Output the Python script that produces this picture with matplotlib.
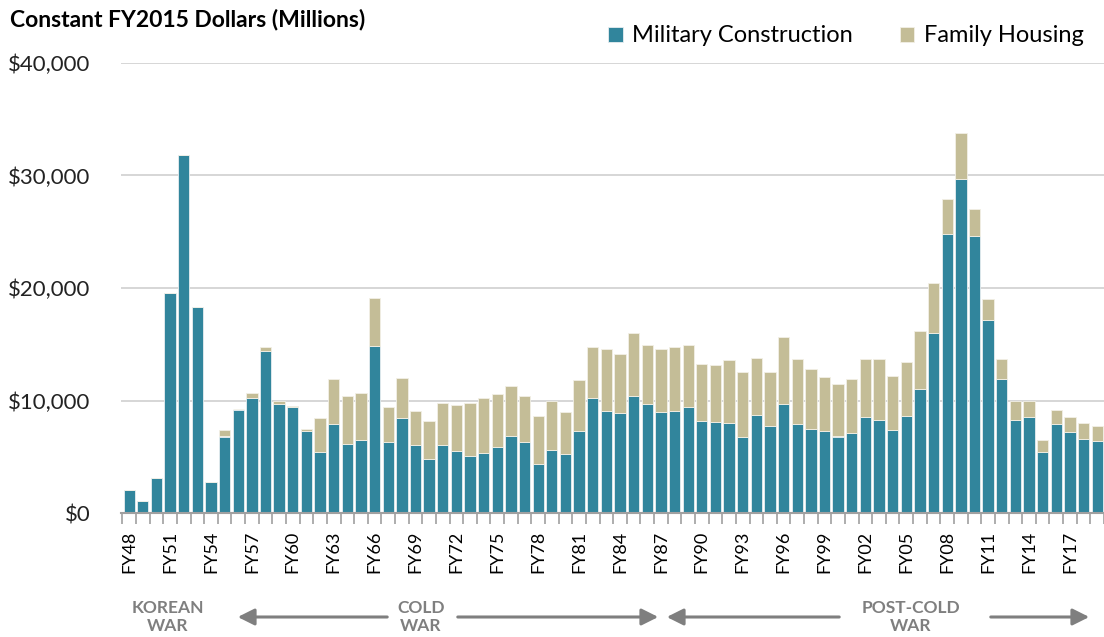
import matplotlib
matplotlib.use("Agg")
import matplotlib.pyplot as plt
from matplotlib.ticker import FuncFormatter

# fiscal years FY48 .. FY19
years = [f"FY{y % 100:02d}" for y in range(1948, 2020)]

# values in constant FY2015 dollars (millions)
military_construction = [
    2070, 1030, 3100, 19580, 31780, 18340, 2750, 6800, 9200, 10200,
    14400, 9670, 9440, 7300, 5380, 7870, 6150, 6510, 14880, 6270,
    8420, 6030, 4790, 6030, 5470, 5110, 5350, 5910, 6830, 6270,
    4350, 5590, 5260, 7280, 10230, 9080, 8870, 10440, 9670, 8960,
    9080, 9440, 8180, 8080, 7970, 6750, 8750, 7720, 9670, 7950,
    7510, 7280, 6800, 7070, 8520, 8310, 7390, 8640, 11000, 15980,
    24790, 29650, 24590, 17130, 11890, 8310, 8520, 5380, 7870, 7190,
    6620, 6390,
]
family_housing = [
    0, 0, 0, 0, 0, 0, 0, 590, 50, 450,
    330, 300, 80, 210, 3050, 4050, 4290, 4170, 4260, 3170,
    3600, 3050, 3380, 3730, 4170, 4650, 4850, 4650, 4500, 4170,
    4290, 4380, 3700, 4520, 4500, 5530, 5300, 5540, 5300, 5650,
    5650, 5530, 5070, 5060, 5640, 5820, 5060, 4850, 5950, 5750,
    5270, 4850, 4650, 4820, 5200, 5410, 4830, 4820, 5210, 4490,
    3140, 4170, 2450, 1890, 1830, 1660, 1450, 1100, 1330, 1330,
    1370, 1360,
]

MC_COLOR = "#31859C"
FH_COLOR = "#C4BD97"
GRAY = "#7F7F7F"
W, H = 1104, 637

plt.rcParams["font.family"] = ["Lato", "DejaVu Sans"]

fig = plt.figure(figsize=(W / 100, H / 100), dpi=100)
ax = fig.add_axes([121 / W, 1 - 513 / H, 1 - 121 / W, (513 - 63) / H])

x = list(range(len(years)))
ax.bar(x, military_construction, width=0.83, color=MC_COLOR,
       edgecolor="#E8EEF0", linewidth=0.6, label="Military Construction", zorder=3)
ax.bar(x, family_housing, width=0.83, bottom=military_construction, color=FH_COLOR,
       edgecolor="#F2F0E6", linewidth=0.6, label="Family Housing", zorder=3)

ax.set_ylim(0, 40000)
ax.set_xlim(-0.6, 71.3)
ax.set_yticks([0, 10000, 20000, 30000, 40000])
ax.yaxis.set_major_formatter(FuncFormatter(lambda v, _: f"${v:,.0f}"))
ax.grid(axis="y", color="#D0D0D0", linewidth=1.2, zorder=0)

ax.set_xticks(x[::3])
ax.set_xticklabels(years[::3], rotation=90, fontsize=13)
ax.set_xticks([i + 0.5 for i in range(-1, len(years))], minor=True)
ax.tick_params(axis="x", which="major", length=0, pad=13)
ax.tick_params(axis="x", which="minor", length=8, color="#A0A0A0", width=1.2)
ax.tick_params(axis="y", length=0, pad=22, labelsize=16, labelcolor="#222222")

for side in ("top", "right", "left"):
    ax.spines[side].set_visible(False)
ax.spines["bottom"].set_color("#A0A0A0")
ax.spines["bottom"].set_linewidth(1.5)
ax.spines["bottom"].set_zorder(4)

fig.text(10 / W, 1 - 20 / H, "Constant FY2015 Dollars (Millions)",
         fontsize=16.5, fontweight="bold", va="center", ha="left")

ax.legend(loc="center", bbox_to_anchor=(846 / W, 1 - 36 / H),
          bbox_transform=fig.transFigure, ncol=2, frameon=False,
          fontsize=17, handlelength=0.6, handleheight=0.6,
          handletextpad=0.4, columnspacing=2.0)


def fpt(px, py):
    return (px / W, 1 - py / H)


era_labels = [("KOREAN\nWAR", 168), ("COLD\nWAR", 421), ("POST-COLD\nWAR", 911)]
for text, cx in era_labels:
    fig.text(*fpt(cx, 617), text, ha="center", va="center", fontsize=12.5,
             fontweight="bold", color=GRAY, linespacing=1.1)

arrows = [(390, 235), (455, 661), (842, 664), (988, 1092)]
for x0, x1 in arrows:
    fig.patches.append(matplotlib.patches.FancyArrowPatch(
        fpt(x0, 617), fpt(x1, 617), transform=fig.transFigure,
        arrowstyle="-|>,head_length=10,head_width=5", color=GRAY,
        linewidth=2.2, mutation_scale=1))

fig.savefig("out.png", dpi=100)
